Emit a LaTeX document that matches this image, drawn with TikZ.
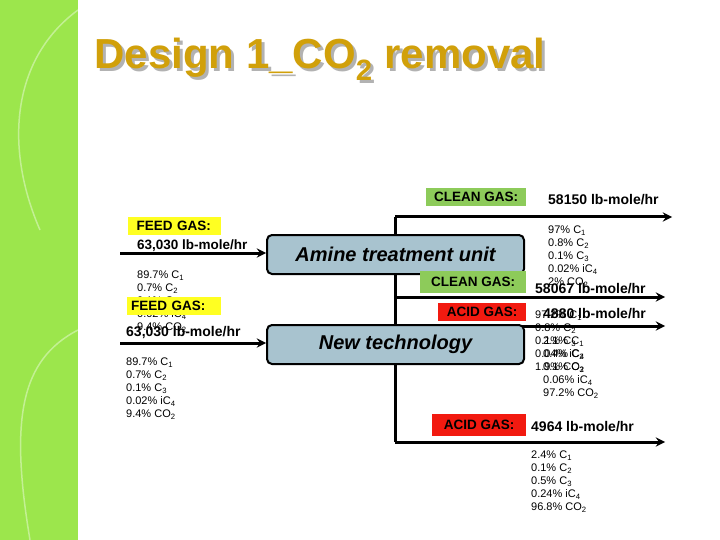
\documentclass[tikz,border=0pt]{standalone}
\usepackage{fontspec}
\setmainfont{Liberation Sans}
\begin{document}
\begin{tikzpicture}[x=1pt,y=-1pt,
  lbl/.style={font=\bfseries\fontsize{13.5}{14}\selectfont,inner sep=1pt,anchor=north west,minimum height=18pt,text depth=0pt},
  rate/.style={font=\bfseries\fontsize{14}{15}\selectfont,anchor=west,inner sep=0pt},
  comp/.style={font=\fontsize{11}{13}\selectfont,anchor=north west,align=left,inner sep=0pt},
  unit/.style={draw,line width=2pt,rounded corners=5pt,fill=boxblue,font=\bfseries\itshape\fontsize{20}{22}\selectfont,minimum width=257pt,minimum height=39pt,anchor=north west},
  flow/.style={line width=3pt,-stealth}]
\definecolor{band}{HTML}{9CE64C}
\definecolor{gold}{HTML}{D1A00A}
\definecolor{boxblue}{HTML}{A8C3CF}
\definecolor{lgreen}{HTML}{8DCB5A}
\definecolor{ared}{HTML}{F21A10}
\definecolor{fyel}{HTML}{FFFF22}
\useasboundingbox (0,0) rectangle (720,540);
\fill[white] (0,0) rectangle (720,540);
\fill[band] (0,0) rectangle (78,540);
\draw[white,opacity=0.4,line width=1.5pt] (78,10) .. controls (10,60) and (5,150) .. (40,230);
\draw[white,opacity=0.4,line width=1.5pt] (78,330) .. controls (20,360) and (10,420) .. (30,540);
\node[anchor=west,text=gray!60,font=\bfseries\fontsize{42}{46}\selectfont] at (94,62) {Design 1\_CO\textsubscript{2} removal};
\node[anchor=west,text=gold,font=\bfseries\fontsize{42}{46}\selectfont] (title) at (91,59) {Design 1\_CO\textsubscript{2} removal};
% vertical collector
\coordinate (vt) at (395,217); \coordinate (vb) at (395,442);
\draw[line width=3pt] (vt) -- (vb);
% outlet arrows
\coordinate (o1) at (672,217); \coordinate (o2) at (665,297);
\coordinate (a1s) at (520,326); \coordinate (o3) at (665,326);
\coordinate (o4) at (665,442); \coordinate (m2) at (395,297);
\draw[flow] (vt) -- (o1);
\draw[flow] (m2) -- (o2);
\draw[flow] (a1s) -- (o3);
\draw[flow] (vb) -- (o4);
% units
\node[unit] (amine) at (266,234) {Amine treatment unit};
\node[unit] (newt) at (266,324) {New technology};
% feeds
\coordinate (f1) at (120,253); \coordinate (f2) at (120,343);
\draw[flow] (f1) -- (amine.west|-f1);
\draw[flow] (f2) -- (newt.west|-f2);
% labels
\node[lbl,fill=fyel,minimum width=93pt,align=left,text width=85pt] (fg1) at (128,217) {\ FEED GAS:};
\node[rate,font=\bfseries\fontsize{13.5}{15}\selectfont] (r0) at (137,246) {63,030 lb-mole/hr};
\node[comp] (c1) at (137,271) {89.7\% C\textsubscript{1}\\0.7\% C\textsubscript{2}\\0.1\% C\textsubscript{3}\\0.02\% iC\textsubscript{4}\\9.4\% CO\textsubscript{2}};
\node[lbl,fill=fyel,minimum width=94pt,align=left,text width=86pt] (fg2) at (127,297) {FEED GAS:};
\node[rate] (r00) at (126,333) {63,030 lb-mole/hr};
\node[comp] (c2) at (126,358) {89.7\% C\textsubscript{1}\\0.7\% C\textsubscript{2}\\0.1\% C\textsubscript{3}\\0.02\% iC\textsubscript{4}\\9.4\% CO\textsubscript{2}};
\node[lbl,fill=lgreen,minimum width=100pt] (cg1) at (426,188) {CLEAN GAS:};
\node[lbl,fill=lgreen,minimum width=106pt,minimum height=22pt] (cg2) at (420,271) {CLEAN GAS:};
\node[lbl,fill=ared,minimum width=88pt] (ag1) at (438,303) {ACID GAS:};
\node[lbl,fill=ared,minimum width=94pt,minimum height=22pt] (ag2) at (432,414) {ACID GAS:};
% right side
\node[rate] (r1) at (548,200) {58150 lb-mole/hr};
\node[comp] (c3) at (548,226) {97\% C\textsubscript{1}\\0.8\% C\textsubscript{2}\\0.1\% C\textsubscript{3}\\0.02\% iC\textsubscript{4}\\2\% CO\textsubscript{2}};
\node[rate] (r2) at (535,289) {58067 lb-mole/hr};
\node[rate] (r3) at (543,314) {4880 lb-mole/hr};
\node[comp] (c4) at (535,311) {97.2\% C\textsubscript{1}\\0.8\% C\textsubscript{2}\\0.1\% C\textsubscript{3}\\0.04\% iC\textsubscript{4}\\1.9\% CO\textsubscript{2}};
\node[comp] (c5) at (543,337) {2.1\% C\textsubscript{1}\\0.4\% C\textsubscript{2}\\0.1\% C\textsubscript{3}\\0.06\% iC\textsubscript{4}\\97.2\% CO\textsubscript{2}};
\node[rate] (r4) at (531,427) {4964 lb-mole/hr};
\node[comp] (c6) at (531,451) {2.4\% C\textsubscript{1}\\0.1\% C\textsubscript{2}\\0.5\% C\textsubscript{3}\\0.24\% iC\textsubscript{4}\\96.8\% CO\textsubscript{2}};
\end{tikzpicture}
\end{document}
